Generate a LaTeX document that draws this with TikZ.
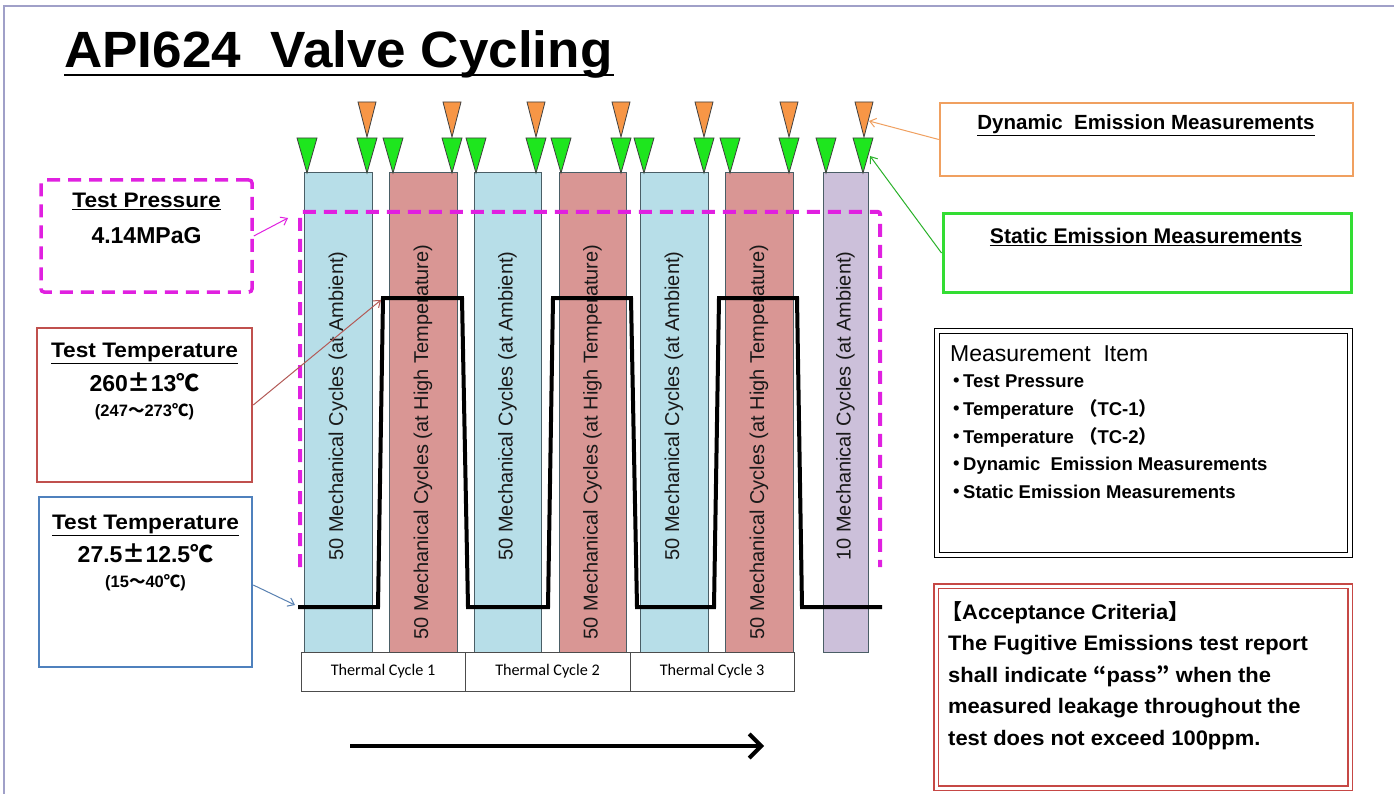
\documentclass[tikz,border=0pt]{standalone}
\usepackage{fontspec}
\setmainfont{Liberation Sans}
\newfontfamily\cjk{Noto Sans CJK JP}
\newfontfamily\calib{Carlito}
\newfontfamily\wsans{Liberation Sans}[FakeStretch=1.08]
\newfontfamily\csans{Liberation Sans}[FakeStretch=1.045]
\usetikzlibrary{arrows.meta}
\definecolor{ambblue}{HTML}{B7DEE8}
\definecolor{hotred}{HTML}{D99694}
\definecolor{lilac}{HTML}{CCC0DA}
\definecolor{barline}{HTML}{4A5E66}
\definecolor{trigreen}{HTML}{1EE61E}
\definecolor{triorange}{HTML}{F79646}
\definecolor{magent}{HTML}{E020E0}
\definecolor{redbox}{HTML}{C0504D}
\definecolor{bluebox}{HTML}{4F81BD}
\definecolor{greenbox}{HTML}{33DD33}
\definecolor{orangebox}{HTML}{F0A060}
\definecolor{framecol}{HTML}{A0A0C8}
\begin{document}
\begin{tikzpicture}[x=1pt,y=-1pt,
  bar/.style={draw=barline, line width=1, minimum width=#1, minimum height=479, inner sep=0},
  bartext/.style={rotate=90, font=\fontsize{20}{24}\selectfont, text=black!90, inner sep=0},
  tcbox/.style={draw=black!70, line width=1, fill=white, minimum width=#1, minimum height=39, inner sep=0, font=\calib\fontsize{16.2}{19}\selectfont},
  greentri/.style={fill=trigreen, draw=black!75, line width=0.8},
  orangetri/.style={fill=triorange, draw=black!75, line width=0.8},
  magdash/.style={draw=magent, line width=4, dash pattern=on 13 off 8},
  thin arrow/.style={line width=1, -{Straight Barb[length=6,width=9]}},
  boxlabel/.style={font=\wsans\bfseries\fontsize{21}{25}\selectfont, inner sep=0, anchor=base},
  bigval/.style={font=\bfseries\fontsize{23}{27}\selectfont, inner sep=0, anchor=base},
  smallval/.style={font=\bfseries\fontsize{16.5}{19}\selectfont, inner sep=0, anchor=base},
  listline/.style={font=\bfseries\fontsize{18.5}{22}\selectfont, inner sep=0, anchor=base west},
  critline/.style={font=\csans\bfseries\fontsize{21}{25}\selectfont, inner sep=0, anchor=base west},
]
\useasboundingbox (0,0) rectangle (1394,794);
\fill[white] (0,0) rectangle (1394,794);
\draw[framecol, line width=1.5] (4,794) -- (4,6) -- (1394,6);

% title
\node[anchor=base west, inner sep=0, font=\bfseries\fontsize{51}{60}\selectfont] (title) at (64,68) {\scalebox{1.04}[1]{API624\ \ Valve Cycling}};
\draw[black, line width=2.5] (64,75) -- (614,75);

% bars
\node[bar=68, fill=ambblue] (b1) at (338,412.5) {};
\node[bar=68, fill=hotred]  (b2) at (423,412.5) {};
\node[bar=67, fill=ambblue] (b3) at (507.5,412.5) {};
\node[bar=67, fill=hotred]  (b4) at (592.5,412.5) {};
\node[bar=68, fill=ambblue] (b5) at (674,412.5) {};
\node[bar=68, fill=hotred]  (b6) at (759,412.5) {};
\node[bar=45, fill=lilac]   (b7) at (845.5,412.5) {};

\node[bartext] (t1) at (338,406) {50 Mechanical Cycles (at Ambient)};
\node[bartext] (t2) at (423,442) {50 Mechanical Cycles (at High Temperature)};
\node[bartext] (t3) at (507.5,406) {50 Mechanical Cycles (at Ambient)};
\node[bartext] (t4) at (592.5,442) {50 Mechanical Cycles (at High Temperature)};
\node[bartext] (t5) at (674,406) {50 Mechanical Cycles (at Ambient)};
\node[bartext] (t6) at (759,442) {50 Mechanical Cycles (at High Temperature)};
\node[bartext] (t7) at (845.5,406) {10 Mechanical Cycles (at Ambient)};

% thermal cycle boxes
\node[tcbox=164] (tc1) at (383,671.5) {Thermal Cycle 1};
\node[tcbox=165] (tc2) at (547.5,671.5) {Thermal Cycle 2};
\node[tcbox=164] (tc3) at (712,671.5) {Thermal Cycle 3};

% temperature profile
\draw[black, line width=4, line join=miter] (298,607) -- (378,607) -- (383,298) -- (462,298) -- (468,607)
  -- (548,607) -- (553,298) -- (631,298) -- (637,607)
  -- (714,607) -- (719,298) -- (797,298) -- (802,607) -- (882,607);

% test pressure region
\draw[magdash, rounded corners=2] (300,567) -- (300,212) -- (880,212) -- (880,567);

% triangles
\foreach \cx in {307,367,393,452,476,536,561,621,644,704,730,789,826,863}
  \filldraw[greentri] (\cx-10,138) -- (\cx+10,138) -- (\cx,173) -- cycle;
\foreach \cx in {367,452,536,621,704,789,864}
  \filldraw[orangetri] (\cx-9,102) -- (\cx+9,102) -- (\cx,137) -- cycle;

% left boxes
\node[draw=magent, line width=3.5, dash pattern=on 13 off 8, rounded corners=3, minimum width=211, minimum height=112] (tp) at (146.5,236) {};
\node[boxlabel] (tpl) at (146.5,207.5) {\underline{Test Pressure}};
\node[bigval] (tpv) at (146.5,244) {4.14MPaG};

\node[draw=redbox, line width=2.5, minimum width=215, minimum height=154] (tr) at (144.5,405) {};
\node[boxlabel] (trl) at (144.5,357) {\underline{Test Temperature}};
\node[bigval] (trv) at (144.5,391.5) {260{\cjk ±}13{\cjk ℃}};
\node[smallval] (trs) at (144.5,416) {(247{\cjk ～}273{\cjk ℃})};

\node[draw=bluebox, line width=2.5, minimum width=213, minimum height=170] (tb) at (145.5,582) {};
\node[boxlabel] (tbl) at (145.5,529.5) {\underline{Test Temperature}};
\node[bigval] (tbv) at (145.5,562.5) {27.5{\cjk ±}12.5{\cjk ℃}};
\node[smallval] (tbs) at (145.5,587) {(15{\cjk ～}40{\cjk ℃})};

\coordinate (tpend) at (288,218);
\coordinate (trend) at (381,300);
\coordinate (tbend) at (295,605);
\draw[thin arrow, magent] (tp.east) -- (tpend);
\draw[thin arrow, redbox!80!gray] (tr.east) -- (trend);
\draw[thin arrow, bluebox!80!gray] ([yshift=-3]tb.east) -- (tbend);

% right boxes
\node[draw=orangebox, line width=2.5, minimum width=413, minimum height=73] (dyn) at (1146.5,139.5) {};
\node[boxlabel, font=\bfseries\fontsize{20.5}{24}\selectfont] (dynl) at (1146,130) {\underline{Dynamic\ \ Emission Measurements}};
\node[draw=greenbox, line width=3, minimum width=408, minimum height=78] (stat) at (1147,253) {};
\node[boxlabel, font=\bfseries\fontsize{21.2}{25}\selectfont] (statl) at (1146,243.5) {\underline{Static Emission Measurements}};
\coordinate (dynend) at (869,121);
\coordinate (statend) at (870,156);
\draw[thin arrow, orangebox] (dyn.west) -- (dynend);
\draw[thin arrow, greenbox!80!black] (stat.west) -- (statend);

% measurement item
\node[draw=black, line width=1.5, double distance=3.5, minimum width=413, minimum height=224] (meas) at (1143.5,443) {};
\node[anchor=base west, inner sep=0, font=\fontsize{23}{27}\selectfont] (mh) at (950,361) {Measurement\ \ Item};
\newcommand\jbul{\makebox[13pt][c]{\cjk ・}}
\node[listline] (m1) at (950,387.7) {\jbul Test Pressure};
\node[listline] (m2) at (950,415.4) {\jbul Temperature\ {\cjk （}TC-1{\cjk ）}};
\node[listline] (m3) at (950,443.1) {\jbul Temperature\ {\cjk （}TC-2{\cjk ）}};
\node[listline] (m4) at (950,470.8) {\jbul Dynamic\ \ Emission Measurements};
\node[listline] (m5) at (950,498.5) {\jbul Static Emission Measurements};

% acceptance criteria
\node[draw=redbox!90!red, line width=1.5, double distance=3, minimum width=414, minimum height=202] (acc) at (1143,687) {};
\node[critline] (a1) at (941,619.5) {{\cjk 【}Acceptance Criteria{\cjk 】}};
\node[critline] (a2) at (948,650.5) {The Fugitive Emissions test report};
\node[critline] (a3) at (948,682) {shall indicate {\cjk “}pass{\cjk ”} when the};
\node[critline] (a4) at (948,713.5) {measured leakage throughout the};
\node[critline] (a5) at (948,745) {test does not exceed 100ppm.};

% time arrow
\coordinate (ts) at (350,746);
\coordinate (te) at (764,746);
\draw[line width=4, -{Straight Barb[length=12,width=24]}] (ts) -- (te);
\end{tikzpicture}
\end{document}
